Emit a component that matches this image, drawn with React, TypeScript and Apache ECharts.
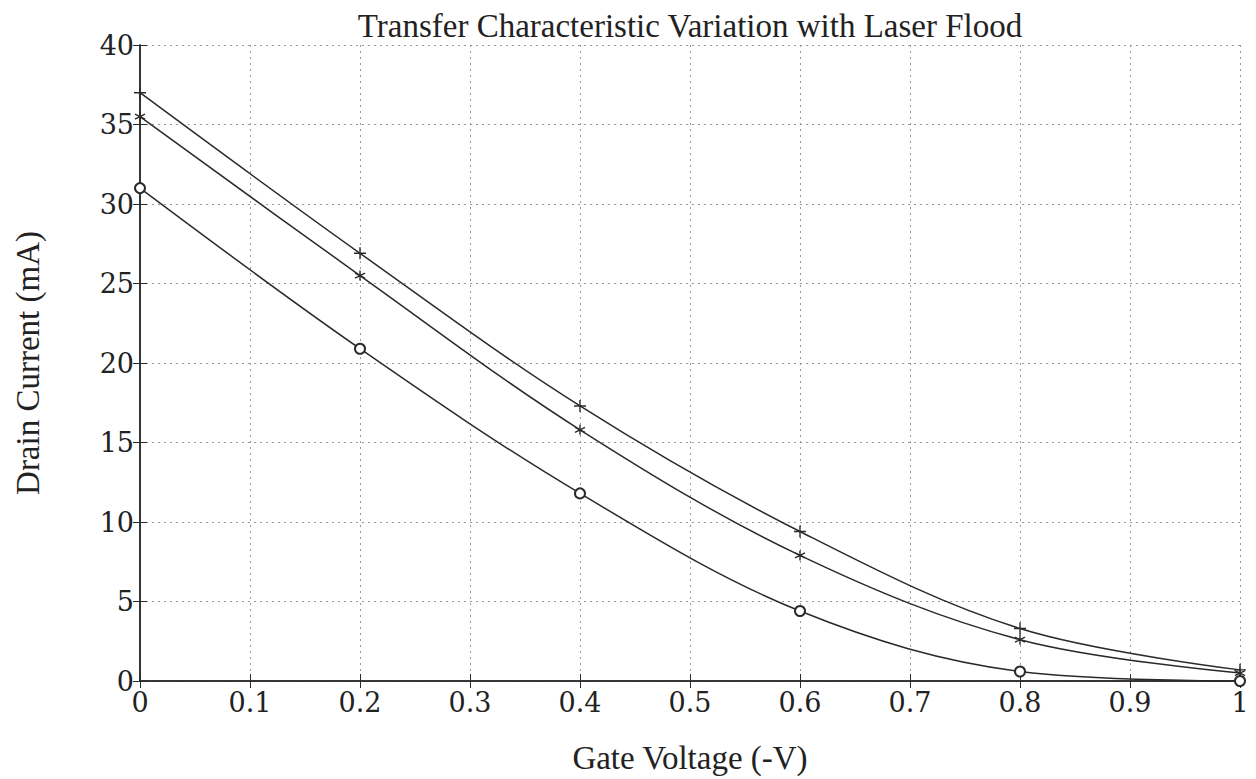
import React, { useEffect, useRef } from "react";
import * as echarts from "echarts";

const gateVoltage = [0, 0.2, 0.4, 0.6, 0.8, 1];
const currentPlus = [37, 26.9, 17.3, 9.4, 3.3, 0.7];
const currentStar = [35.5, 25.5, 15.8, 7.9, 2.6, 0.5];
const currentCircle = [31, 20.9, 11.8, 4.4, 0.6, 0];

const TITLE_FONT = "Liberation Serif";
const TICK_FONT = "DejaVu Serif";
const INK = "#2a2a2a";

const plusPath = "path://M0,-10 L0,10 M-10,0 L10,0";
const starPath = "path://M0,-10 L0,10 M-8.7,-5 L8.7,5 M-8.7,5 L8.7,-5";

export default function App() {
  const ref = useRef<HTMLDivElement>(null);
  useEffect(() => {
    if (!ref.current) return;
    const chart = echarts.init(ref.current, undefined, { renderer: "svg" });
    const mk = (vals: number[], symbol: string, size: number) => ({
      type: "line",
      data: gateVoltage.map((x, i) => [x, vals[i]]),
      smooth: 0.35,
      symbol,
      symbolSize: size,
      showAllSymbol: true,
      clip: false,
      lineStyle: { color: INK, width: 1.5 },
      itemStyle: { color: "transparent", borderColor: INK, borderWidth: 1.4 },
      xAxisIndex: 0,
      yAxisIndex: 0,
    });
    const gridLine = { show: true, lineStyle: { color: "#9a9a9a", type: [2, 4], width: 1 } };
    chart.setOption({
      animation: false,
      backgroundColor: "#fff",
      title: {
        text: "Transfer Characteristic Variation with Laser Flood",
        left: 685,
        textAlign: "center",
        top: 4,
        textStyle: { fontFamily: TITLE_FONT, fontSize: 33, fontWeight: "normal", color: "#222" },
      },
      grid: { left: 140, right: 16, top: 45, bottom: 94 },
      xAxis: [
        {
          type: "value",
          min: 0,
          max: 1,
          interval: 0.1,
          position: "bottom",
          name: "Gate Voltage (-V)",
          nameLocation: "middle",
          nameGap: 60,
          nameTextStyle: { fontFamily: TITLE_FONT, fontSize: 33, color: "#222" },
          axisLine: { show: true, lineStyle: { color: INK, width: 1.5 } },
          axisTick: { show: true, inside: true, length: 7, lineStyle: { color: INK } },
          axisLabel: {
            fontFamily: TICK_FONT,
            fontSize: 27,
            color: "#222",
            margin: 8,
            formatter: (v: number) => (Math.round(v * 10) / 10).toString(),
          },
          splitLine: gridLine,
        },
        {
          type: "value",
          min: 0,
          max: 1,
          interval: 0.1,
          position: "top",
          axisLine: { show: true, lineStyle: { color: INK, width: 1.5 } },
          axisTick: { show: true, inside: true, length: 7, lineStyle: { color: INK } },
          axisLabel: { show: false },
          splitLine: { show: false },
        },
      ],
      yAxis: [
        {
          type: "value",
          min: 0,
          max: 40,
          interval: 5,
          position: "left",
          name: "Drain Current (mA)",
          nameLocation: "middle",
          nameGap: 96,
          nameRotate: 90,
          nameTextStyle: { fontFamily: TITLE_FONT, fontSize: 33, color: "#222" },
          axisLine: { show: true, lineStyle: { color: INK, width: 1.5 } },
          axisTick: { show: true, inside: true, length: 7, lineStyle: { color: INK } },
          axisLabel: { fontFamily: TICK_FONT, fontSize: 27, color: "#222", margin: 6 },
          splitLine: gridLine,
        },
        {
          type: "value",
          min: 0,
          max: 40,
          interval: 5,
          position: "right",
          axisLine: { show: true, lineStyle: { color: INK, width: 1.5 } },
          axisTick: { show: true, inside: true, length: 7, lineStyle: { color: INK } },
          axisLabel: { show: false },
          splitLine: { show: false },
        },
      ],
      series: [
        mk(currentPlus, plusPath, 12),
        mk(currentStar, starPath, 10),
        { ...mk(currentCircle, "emptyCircle", 10), itemStyle: { color: INK, borderWidth: 1.4 } },
      ],
    });
    return () => chart.dispose();
  }, []);
  return (
    <div
      ref={ref}
      style={{ width: 1256, height: 779, position: "absolute", left: 0, top: 0, background: "#fff" }}
    />
  );
}
